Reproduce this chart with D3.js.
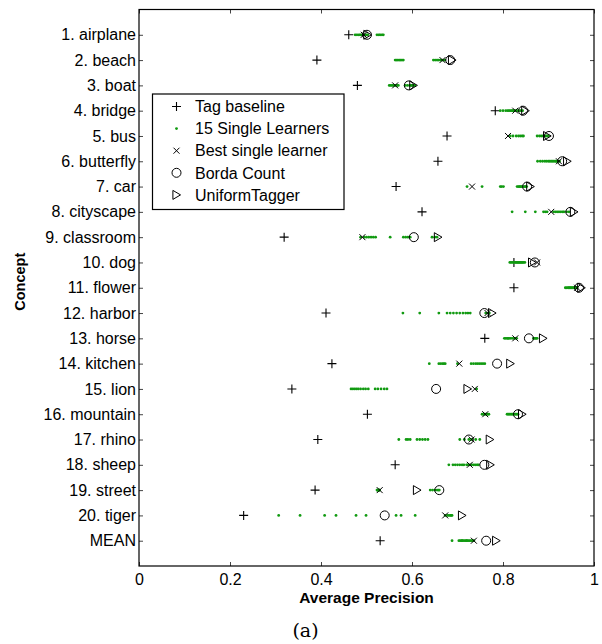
<!DOCTYPE html>
<html>
<head>
<meta charset="utf-8">
<script src="https://cdn.jsdelivr.net/npm/d3@7"></script>
<style>
  body { margin: 0; background: #fff; }
  svg { display: block; font-family: "Liberation Sans", Arial, sans-serif; }
</style>
</head>
<body>
<svg id="chart" width="602" height="644"></svg>
<script>
// concepts, top to bottom
var concepts = ["1. airplane", "2. beach", "3. boat", "4. bridge", "5. bus", "6. butterfly",
  "7. car", "8. cityscape", "9. classroom", "10. dog", "11. flower", "12. harbor", "13. horse",
  "14. kitchen", "15. lion", "16. mountain", "17. rhino", "18. sheep", "19. street", "20. tiger", "MEAN"];

var tagBaseline = [0.461, 0.391, 0.480, 0.783, 0.677, 0.657, 0.565, 0.622, 0.319, 0.824, 0.824,
  0.411, 0.760, 0.424, 0.336, 0.502, 0.393, 0.563, 0.387, 0.230, 0.530];

var bestSingle = [0.494, 0.667, 0.563, 0.827, 0.811, 0.923, 0.732, 0.906, 0.491, 0.875, 0.963,
  0.766, 0.827, 0.704, 0.738, 0.761, 0.731, 0.727, 0.529, 0.673, 0.736];

var bordaCount = [0.501, 0.684, 0.593, 0.844, 0.901, 0.930, 0.853, 0.948, 0.604, 0.870, 0.967,
  0.759, 0.857, 0.787, 0.653, 0.833, 0.725, 0.759, 0.660, 0.540, 0.763];

var uniformTagger = [0.502, 0.688, 0.603, 0.849, 0.897, 0.941, 0.860, 0.956, 0.657, 0.864, 0.972,
  0.776, 0.888, 0.816, 0.722, 0.842, 0.771, 0.772, 0.611, 0.710, 0.785];

// 15 single learners per concept
var singleLearners = [
  [0.475, 0.479, 0.483, 0.486, 0.489, 0.492, 0.494, 0.497, 0.500, 0.503, 0.523, 0.527, 0.530, 0.534, 0.537],
  [0.563, 0.566, 0.569, 0.572, 0.575, 0.578, 0.581, 0.647, 0.651, 0.655, 0.658, 0.662, 0.665, 0.668, 0.672],
  [0.550, 0.553, 0.556, 0.559, 0.562, 0.565, 0.567, 0.570, 0.585, 0.590, 0.595, 0.598, 0.600, 0.604, 0.606],
  [0.794, 0.800, 0.806, 0.810, 0.813, 0.816, 0.819, 0.821, 0.823, 0.826, 0.829, 0.832, 0.836, 0.840, 0.843],
  [0.816, 0.822, 0.829, 0.834, 0.838, 0.842, 0.845, 0.875, 0.880, 0.884, 0.888, 0.891, 0.894, 0.897, 0.900],
  [0.876, 0.882, 0.887, 0.892, 0.896, 0.900, 0.903, 0.906, 0.909, 0.912, 0.915, 0.917, 0.919, 0.921, 0.924],
  [0.721, 0.754, 0.794, 0.797, 0.801, 0.831, 0.834, 0.836, 0.838, 0.840, 0.842, 0.845, 0.848, 0.850, 0.852],
  [0.820, 0.849, 0.871, 0.889, 0.893, 0.897, 0.911, 0.915, 0.919, 0.923, 0.927, 0.931, 0.934, 0.940, 0.945],
  [0.487, 0.495, 0.500, 0.505, 0.510, 0.515, 0.520, 0.552, 0.581, 0.586, 0.591, 0.596, 0.644, 0.650, 0.655],
  [0.815, 0.818, 0.821, 0.824, 0.827, 0.829, 0.831, 0.833, 0.835, 0.837, 0.839, 0.841, 0.843, 0.845, 0.848],
  [0.937, 0.940, 0.943, 0.945, 0.947, 0.949, 0.951, 0.953, 0.955, 0.957, 0.958, 0.959, 0.961, 0.962, 0.963],
  [0.580, 0.617, 0.659, 0.677, 0.684, 0.691, 0.698, 0.705, 0.712, 0.718, 0.723, 0.728, 0.762, 0.766, 0.770],
  [0.803, 0.806, 0.809, 0.811, 0.813, 0.816, 0.820, 0.824, 0.827, 0.830, 0.867, 0.869, 0.871, 0.873, 0.875],
  [0.638, 0.659, 0.663, 0.667, 0.670, 0.673, 0.700, 0.730, 0.735, 0.740, 0.744, 0.748, 0.752, 0.756, 0.760],
  [0.466, 0.470, 0.474, 0.478, 0.482, 0.487, 0.493, 0.498, 0.504, 0.519, 0.525, 0.532, 0.539, 0.545, 0.742],
  [0.754, 0.757, 0.760, 0.763, 0.766, 0.769, 0.809, 0.812, 0.815, 0.818, 0.821, 0.824, 0.827, 0.830, 0.833],
  [0.571, 0.587, 0.591, 0.596, 0.611, 0.617, 0.623, 0.629, 0.635, 0.705, 0.715, 0.725, 0.731, 0.740, 0.749],
  [0.681, 0.690, 0.695, 0.700, 0.705, 0.710, 0.714, 0.720, 0.723, 0.727, 0.731, 0.735, 0.739, 0.743, 0.746],
  [0.523, 0.524, 0.525, 0.526, 0.526, 0.527, 0.528, 0.528, 0.529, 0.640, 0.645, 0.650, 0.655, 0.658, 0.660],
  [0.307, 0.354, 0.408, 0.433, 0.477, 0.499, 0.565, 0.576, 0.607, 0.673, 0.678, 0.681, 0.684, 0.686, 0.688],
  [0.688, 0.703, 0.706, 0.709, 0.710, 0.712, 0.715, 0.718, 0.720, 0.721, 0.724, 0.727, 0.730, 0.733, 0.736]
];

var xTicks = [0, 0.2, 0.4, 0.6, 0.8, 1];
var legendItems = ["Tag baseline", "15 Single Learners", "Best single learner", "Borda Count", "UniformTagger"];

var margin = {top: 9.5, right: 8, bottom: 78, left: 139};
var width = 602 - margin.left - margin.right;
var height = 644 - margin.top - margin.bottom;
var green = "#119a11";

var svg = d3.select("#chart");
var g = svg.append("g").attr("transform", "translate(" + margin.left + "," + margin.top + ")");

var x = d3.scaleLinear().domain([0, 1]).range([0, width]);
var y = d3.scaleLinear().domain([0, concepts.length + 1]).range([0, height]);

// axes: ticks point inward, box around
var xBottom = d3.axisBottom(x).tickValues(xTicks).tickSize(-4).tickPadding(8).tickFormat(d3.format("~g"));
var xTop = d3.axisTop(x).tickValues(xTicks).tickSize(-4).tickFormat("");
var yLeft = d3.axisLeft(y).tickValues(d3.range(1, concepts.length + 1)).tickSize(-4).tickPadding(3)
  .tickFormat(function (d) { return concepts[d - 1]; });
var yRight = d3.axisRight(y).tickValues(d3.range(1, concepts.length + 1)).tickSize(-4).tickFormat("");

function styleAxis(sel) {
  sel.select(".domain").remove();
  sel.selectAll(".tick line").attr("stroke", "#444");
  sel.selectAll("text").attr("fill", "#000").style("font-size", "16px")
    .style("font-family", "'Liberation Sans', Arial, sans-serif");
}

g.append("g").attr("transform", "translate(0," + height + ")").call(xBottom).call(styleAxis);
g.append("g").call(xTop).call(styleAxis);
g.append("g").call(yLeft).call(styleAxis);
g.append("g").attr("transform", "translate(" + width + ",0)").call(yRight).call(styleAxis);

g.append("rect").attr("width", width).attr("height", height)
  .attr("fill", "none").attr("stroke", "#000").attr("stroke-width", 1.2);

// markers
function plus(sel, s) {
  sel.append("path").attr("d", "M" + (-s) + ",0H" + s + "M0," + (-s) + "V" + s)
    .attr("stroke", "#000").attr("stroke-width", 1.1).attr("fill", "none");
}
function cross(sel, s) {
  sel.append("path").attr("d", "M" + (-s) + "," + (-s) + "L" + s + "," + s + "M" + (-s) + "," + s + "L" + s + "," + (-s))
    .attr("stroke", "#000").attr("stroke-width", 1).attr("fill", "none");
}
function ring(sel, r) {
  sel.append("circle").attr("r", r).attr("fill", "none").attr("stroke", "#000").attr("stroke-width", 1);
}
function tri(sel, s) {
  sel.append("path").attr("d", "M" + (-s * 0.8) + "," + (-s) + "L" + (s * 0.9) + ",0L" + (-s * 0.8) + "," + s + "Z")
    .attr("fill", "none").attr("stroke", "#000").attr("stroke-width", 1);
}
function dot(sel, r) {
  sel.append("circle").attr("r", r).attr("fill", green);
}

var rowIdx = d3.range(concepts.length);

function plotSeries(values, drawFn, size) {
  g.append("g").selectAll("g").data(rowIdx).join("g")
    .attr("transform", function (i) { return "translate(" + x(values[i]) + "," + y(i + 1) + ")"; })
    .each(function () { drawFn(d3.select(this), size); });
}

plotSeries(tagBaseline, plus, 4.5);

var dots = [];
singleLearners.forEach(function (row, i) {
  row.forEach(function (v) { dots.push({i: i, v: v}); });
});
g.append("g").selectAll("circle").data(dots).join("circle")
  .attr("cx", function (d) { return x(d.v); })
  .attr("cy", function (d) { return y(d.i + 1); })
  .attr("r", 1.4).attr("fill", green);

plotSeries(bestSingle, cross, 3);
plotSeries(bordaCount, ring, 4.5);
plotSeries(uniformTagger, tri, 4.5);

// legend
var legend = g.append("g").attr("transform", "translate(13.5," + 84.5 + ")");
legend.append("rect").attr("width", 191.5).attr("height", 115.5)
  .attr("fill", "#fff").attr("stroke", "#000").attr("stroke-width", 1.2);
var legendFns = [plus, dot, cross, ring, tri];
var legendSizes = [4.5, 1.4, 3, 4.5, 4.5];
legendItems.forEach(function (t, k) {
  var row = legend.append("g").attr("transform", "translate(0," + (12.5 + k * 22.1) + ")");
  legendFns[k](row.append("g").attr("transform", "translate(24,0)"), legendSizes[k]);
  row.append("text").attr("x", 42.5).attr("dy", "0.36em")
    .style("font-size", "16px").text(t);
});

// axis titles
svg.append("text")
  .attr("x", margin.left + width / 2).attr("y", 603)
  .attr("text-anchor", "middle").style("font-weight", "bold").style("font-size", "15.5px")
  .text("Average Precision");

svg.append("text")
  .attr("transform", "translate(24.5," + (margin.top + height / 2 - 6) + ") rotate(-90)")
  .attr("text-anchor", "middle").style("font-weight", "bold").style("font-size", "14.5px")
  .text("Concept");

svg.append("text")
  .attr("x", 305.5).attr("y", 637)
  .attr("text-anchor", "middle").style("font-family", "'DejaVu Serif', serif").style("font-size", "19px")
  .text("(a)");
</script>
</body>
</html>
